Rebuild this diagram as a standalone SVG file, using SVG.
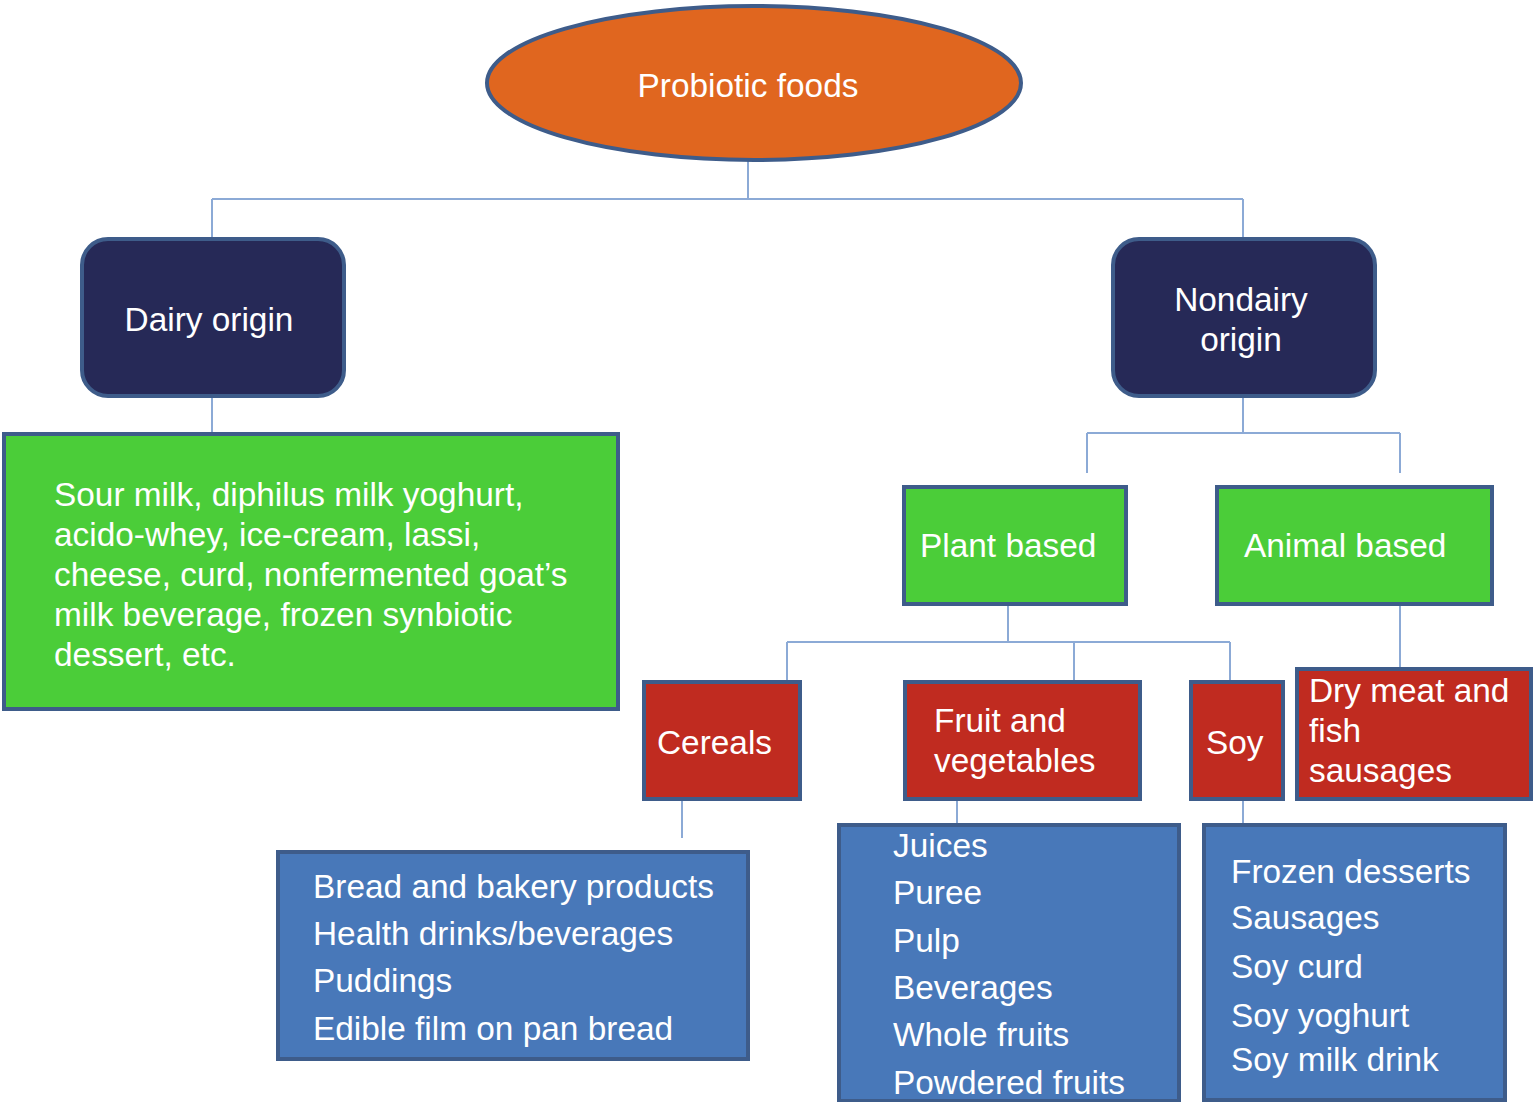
<svg xmlns="http://www.w3.org/2000/svg" width="1536" height="1102" viewBox="0 0 1536 1102">
<style>
  .conn { fill: none; stroke: #8CAAD6; stroke-width: 2; }
  .box { stroke: #3E5C8A; stroke-width: 4; }
  .orange { fill: #E0661F; }
  .navy { fill: #262957; }
  .green { fill: #4BCD39; }
  .red { fill: #C02B20; }
  .blue { fill: #4878B9; }
  text { font-family: "Liberation Sans", Arial, sans-serif; font-size: 33.4px; fill: #FFFFFF; }
  .c { text-anchor: middle; }
</style>
<rect width="1536" height="1102" fill="#FFFFFF"/>
<g id="connectors">
  <path class="conn" d="M748 160 V199 M212 199 H1243 M212 199 V238 M1243 199 V238"/>
  <path class="conn" d="M212 396 V433"/>
  <path class="conn" d="M1243 396 V433 M1087 433 H1400 M1087 433 V473 M1400 433 V473"/>
  <path class="conn" d="M1008 604 V642 M787 642 H1230 M787 642 V681 M1074 642 V681 M1230 642 V681"/>
  <path class="conn" d="M1400 604 V668"/>
  <path class="conn" d="M682 799 V838"/>
  <path class="conn" d="M957 799 V824"/>
  <path class="conn" d="M1243 799 V824"/>
</g>
<g id="probiotic-foods">
  <ellipse class="box orange" cx="754" cy="83" rx="267" ry="77"/>
  <text class="c" x="748" y="97">Probiotic foods</text>
</g>
<g id="dairy-origin">
  <rect class="box navy" x="82" y="239" width="262" height="157" rx="26"/>
  <text class="c" x="209" y="331">Dairy origin</text>
</g>
<g id="nondairy-origin">
  <rect class="box navy" x="1113" y="239" width="262" height="157" rx="26"/>
  <text class="c" x="1241" y="311">Nondairy</text>
  <text class="c" x="1241" y="351">origin</text>
</g>
<g id="dairy-products">
  <rect class="box green" x="4" y="434" width="614" height="275"/>
  <text x="54" y="506">Sour milk, diphilus milk yoghurt,</text>
  <text x="54" y="546">acido-whey, ice-cream, lassi,</text>
  <text x="54" y="586">cheese, curd, nonfermented goat’s</text>
  <text x="54" y="626">milk beverage, frozen synbiotic</text>
  <text x="54" y="666">dessert, etc.</text>
</g>
<g id="plant-based">
  <rect class="box green" x="904" y="487" width="222" height="117"/>
  <text x="920" y="557">Plant based</text>
</g>
<g id="animal-based">
  <rect class="box green" x="1217" y="487" width="275" height="117"/>
  <text x="1244" y="557">Animal based</text>
</g>
<g id="cereals">
  <rect class="box red" x="644" y="682" width="156" height="117"/>
  <text x="657" y="754">Cereals</text>
</g>
<g id="fruit-and-vegetables">
  <rect class="box red" x="905" y="682" width="235" height="117"/>
  <text x="934" y="732">Fruit and</text>
  <text x="934" y="772">vegetables</text>
</g>
<g id="soy">
  <rect class="box red" x="1191" y="682" width="92" height="117"/>
  <text x="1206" y="754">Soy</text>
</g>
<g id="dry-meat">
  <rect class="box red" x="1297" y="669" width="234" height="130"/>
  <text x="1309" y="702">Dry meat and</text>
  <text x="1309" y="742">fish</text>
  <text x="1309" y="782">sausages</text>
</g>
<g id="cereal-products">
  <rect class="box blue" x="278" y="852" width="470" height="207"/>
  <text x="313" y="898">Bread and bakery products</text>
  <text x="313" y="945">Health drinks/beverages</text>
  <text x="313" y="992">Puddings</text>
  <text x="313" y="1040">Edible film on pan bread</text>
</g>
<g id="fruit-products">
  <rect class="box blue" x="839" y="825" width="340" height="276"/>
  <text x="893" y="857">Juices</text>
  <text x="893" y="904">Puree</text>
  <text x="893" y="952">Pulp</text>
  <text x="893" y="999">Beverages</text>
  <text x="893" y="1046">Whole fruits</text>
  <text x="893" y="1094">Powdered fruits</text>
</g>
<g id="soy-products">
  <rect class="box blue" x="1204" y="825" width="301" height="275"/>
  <text x="1231" y="883">Frozen desserts</text>
  <text x="1231" y="929">Sausages</text>
  <text x="1231" y="978">Soy curd</text>
  <text x="1231" y="1027">Soy yoghurt</text>
  <text x="1231" y="1071">Soy milk drink</text>
</g>
</svg>
